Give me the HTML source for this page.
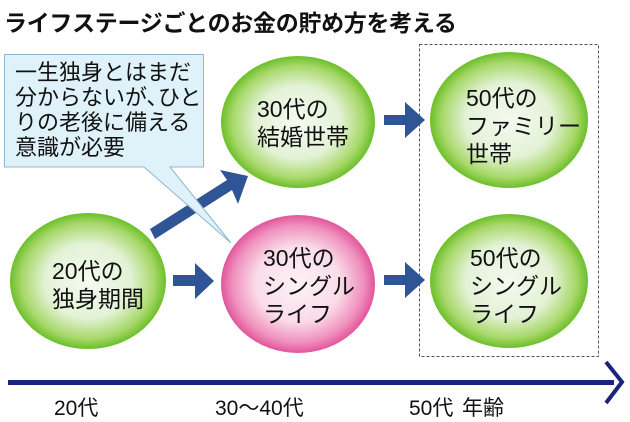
<!DOCTYPE html>
<html><head><meta charset="utf-8"><style>
body{margin:0;width:630px;height:419px;background:#fff;overflow:hidden;position:relative;font-family:"Liberation Sans","Noto Sans CJK JP",sans-serif;color:#111}
.t{position:absolute;white-space:nowrap}
</style></head><body>
<svg width="630" height="419" style="position:absolute;left:0;top:0">
<defs>
<radialGradient id="g" cx="50%" cy="50%" r="50%"><stop offset="0%" stop-color="#f4faf0"/><stop offset="55%" stop-color="#e3f2d6"/><stop offset="85%" stop-color="#a8d86a"/><stop offset="100%" stop-color="#6cbf2a"/></radialGradient>
<radialGradient id="p" cx="50%" cy="50%" r="50%"><stop offset="0%" stop-color="#fdf2f6"/><stop offset="55%" stop-color="#f9dce8"/><stop offset="85%" stop-color="#f08fbd"/><stop offset="100%" stop-color="#e0569a"/></radialGradient>
</defs>
<rect x="419.5" y="44.5" width="179" height="312" fill="none" stroke="#555" stroke-dasharray="3,2"/>
<ellipse cx="88" cy="281" rx="78" ry="68" fill="url(#g)"/>
<ellipse cx="298" cy="122" rx="77" ry="66" fill="url(#g)"/>
<ellipse cx="298" cy="284" rx="77" ry="69" fill="url(#p)"/>
<ellipse cx="509" cy="120" rx="79" ry="68" fill="url(#g)"/>
<ellipse cx="509" cy="281" rx="79" ry="67" fill="url(#g)"/>
<g fill="#2f5597">
<polygon points="173,275 195,275 195,263 214,281 195,299 195,286 173,286"/>
<polygon points="384,115 405,115 405,102 425,120 405,138 405,125 384,125"/>
<polygon points="384,275 405,275 405,262 425,280 405,298 405,285 384,285"/>
<polygon points="150,229 227,180 220,170 248,176 238,204 232,190 155,239"/>
</g>
<polygon points="4.5,54.5 203.5,54.5 203.5,167 170,167 231,243 144,167 4.5,167" fill="#dff1f9" stroke="#8fb8cc" stroke-width="1"/>
<rect x="8" y="380" width="606" height="5" fill="#1a237e"/>
<polyline points="606,362 622,382 606,403" fill="none" stroke="#1a237e" stroke-width="4"/>
</svg>
<div class="t" style="left:4px;top:4px;font-size:23px;font-weight:bold;letter-spacing:-0.3px">ライフステージごとのお金の貯め方を考える</div>
<div class="t" style="left:15px;top:60px;font-size:22px;line-height:25px;letter-spacing:0px">一生独身とはまだ<br>分からないが､ひと<br>りの老後に備える<br>意識が必要</div>
<div class="t" style="left:52px;top:257px;font-size:23px;line-height:28px">20代の<br>独身期間</div>
<div class="t" style="left:257px;top:95px;font-size:23px;line-height:28px">30代の<br>結婚世帯</div>
<div class="t" style="left:263px;top:244px;font-size:23px;line-height:28px">30代の<br>シングル<br>ライフ</div>
<div class="t" style="left:466px;top:84px;font-size:23px;line-height:28px">50代の<br>ファミリー<br>世帯</div>
<div class="t" style="left:470px;top:244px;font-size:23px;line-height:28px">50代の<br>シングル<br>ライフ</div>
<div class="t" style="left:54px;top:392px;font-size:21px">20代</div>
<div class="t" style="left:215px;top:392px;font-size:21px">30〜40代</div>
<div class="t" style="left:409px;top:392px;font-size:21px">50代</div>
<div class="t" style="left:462px;top:392px;font-size:21px">年齢</div>
</body></html>
